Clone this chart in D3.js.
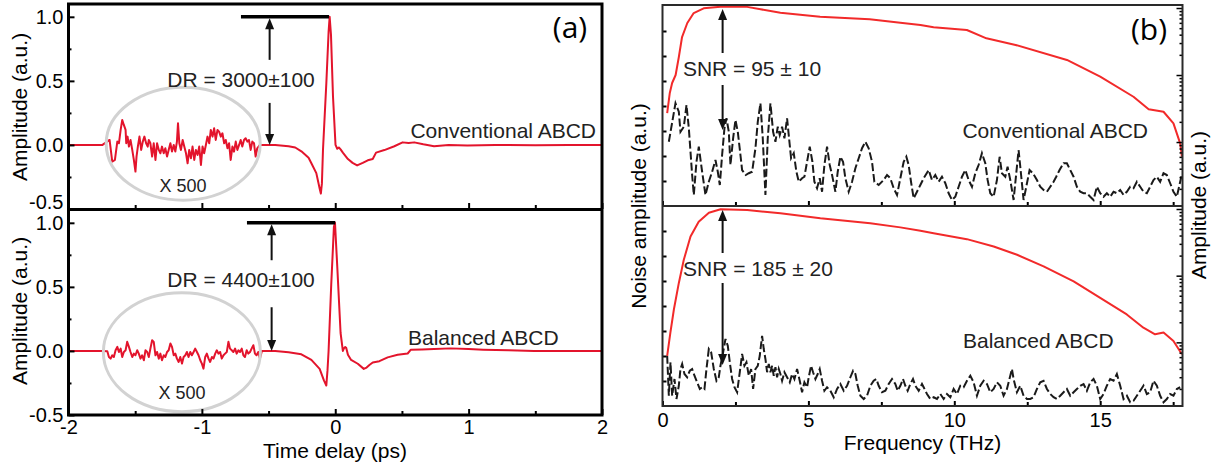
<!DOCTYPE html>
<html><head><meta charset="utf-8">
<script src="https://cdn.jsdelivr.net/npm/d3@7"></script>
<style>
html,body{margin:0;padding:0;background:#fff;}
svg{display:block;}
</style></head><body>
<svg id="chart" width="1223" height="470"></svg>
<script>
// ---------- tick labels ----------
const timeTicks = [-2, -1, 0, 1, 2];
const timeTickLabels = ["-2", "-1", "0", "1", "2"];
const timeMinor = [-1.5, -0.5, 0.5, 1.5];
const ampTicks = [-0.5, 0, 0.5, 1];
const ampTickLabels = ["-0.5", "0.0", "0.5", "1.0"];
const ampMinor = [-0.25, 0.25, 0.75];
const freqTicks = [0, 5, 10, 15];
const freqTickLabels = ["0", "5", "10", "15"];
const freqMinor = [2.5, 7.5, 12.5, 17.5];
const noiseTicks = [1, 2, 3, 4, 5, 6, 7];

// ---------- (a) time-domain traces ----------
const convLead = [[-2, 0], [-1.745, 0]];
const convNoiseT = [-1.692,-1.672,-1.652,-1.634,-1.622,-1.609,-1.597,-1.585,-1.572,-1.567,-1.557,-1.547,-1.535,-1.522,-1.510,-1.498,-1.490,-1.480,-1.468,-1.455,-1.443,-1.431,-1.418,-1.406,-1.398,-1.386,-1.373,-1.361,-1.348,-1.336,-1.323,-1.311,-1.299,-1.286,-1.274,-1.261,-1.249,-1.236,-1.224,-1.211,-1.199,-1.187,-1.179,-1.169,-1.157,-1.144,-1.132,-1.119,-1.107,-1.095,-1.082,-1.070,-1.057,-1.045,-1.032,-1.020,-1.007,-0.995,-0.983,-0.970,-0.958,-0.945,-0.933,-0.920,-0.908,-0.896,-0.883,-0.871,-0.858,-0.846,-0.833,-0.821,-0.808,-0.796,-0.784,-0.771,-0.759,-0.746,-0.734,-0.721,-0.709,-0.697,-0.684,-0.672,-0.659,-0.647,-0.634,-0.622,-0.609,-0.597,-0.585];
const convNoiseV = [0.039,-0.130,-0.117,0.026,0.013,0.117,0.195,0.156,0.117,0.013,0.065,-0.013,0.039,-0.039,-0.117,-0.208,-0.091,-0.013,0.065,-0.039,0.026,0.065,0.013,-0.013,0.039,0.013,-0.091,0.013,-0.117,0.013,-0.039,-0.065,-0.013,-0.065,-0.026,-0.091,-0.039,0.013,-0.052,0.0,-0.052,0.026,0.169,0.013,-0.039,0.039,-0.013,-0.065,-0.143,-0.039,-0.104,-0.013,-0.117,-0.039,-0.078,-0.013,-0.156,-0.013,-0.065,0.0,0.065,0.013,0.117,0.065,0.130,0.039,0.117,0.104,0.065,0.091,0.013,0.039,-0.026,0.013,-0.117,-0.013,-0.052,0.026,-0.039,0.0,0.039,-0.013,0.039,0.052,0.026,0.039,-0.039,0.026,0.013,-0.091,-0.026];
const convPulse = [[-0.565,0],[-0.45,0],[-0.35,-0.01],[-0.30,-0.02],[-0.254,-0.05],[-0.2,-0.10],[-0.179,-0.143],[-0.142,-0.22],[-0.117,-0.34],[-0.108,-0.38],[-0.100,-0.30],[-0.092,-0.04],[-0.067,0.48],[-0.050,0.88],[-0.042,1.0],[-0.032,0.86],[-0.017,0.38],[0.002,0.0],[0.015,-0.03],[0.027,-0.02],[0.040,-0.035],[0.057,-0.06],[0.095,-0.11],[0.13,-0.14],[0.164,-0.16],[0.206,-0.14],[0.244,-0.12],[0.281,-0.11],[0.306,-0.06],[0.368,-0.04],[0.443,-0.01],[0.505,0.02],[0.55,0.015],[0.592,0.02],[0.66,0.005],[0.741,-0.01],[0.85,0.0],[0.99,-0.005],[1.2,0.0],[1.5,-0.003],[1.75,0.0],[2.0,0.0]];

const balLead = [[-2, 0], [-1.745, 0]];
const balNoiseT = [-1.709,-1.697,-1.684,-1.672,-1.660,-1.647,-1.634,-1.622,-1.609,-1.597,-1.585,-1.572,-1.560,-1.547,-1.535,-1.522,-1.510,-1.498,-1.485,-1.473,-1.460,-1.448,-1.435,-1.423,-1.410,-1.398,-1.386,-1.373,-1.361,-1.348,-1.336,-1.323,-1.311,-1.299,-1.286,-1.274,-1.261,-1.249,-1.236,-1.224,-1.211,-1.199,-1.187,-1.174,-1.162,-1.149,-1.137,-1.124,-1.112,-1.100,-1.087,-1.075,-1.062,-1.050,-1.037,-1.025,-1.012,-1.000,-0.988,-0.975,-0.963,-0.950,-0.938,-0.925,-0.913,-0.900,-0.888,-0.876,-0.863,-0.851,-0.838,-0.826,-0.813,-0.801,-0.789,-0.776,-0.764,-0.751,-0.739,-0.726,-0.714,-0.701,-0.689,-0.677,-0.664,-0.652,-0.639,-0.627,-0.614,-0.602,-0.590,-0.577,-0.565];
const balNoiseV = [-0.002,-0.047,-0.060,-0.034,-0.047,0.005,0.032,-0.008,0.018,-0.047,-0.008,0.005,0.071,0.032,-0.008,-0.047,-0.021,-0.034,0.005,-0.021,-0.060,-0.034,-0.073,0.005,-0.008,-0.047,0.018,0.084,0.071,-0.034,-0.008,-0.060,-0.021,-0.073,-0.034,-0.047,-0.008,0.005,0.058,0.032,-0.034,-0.021,-0.060,-0.086,-0.047,-0.099,-0.047,-0.034,-0.008,-0.047,-0.008,-0.034,-0.008,0.018,-0.008,-0.034,-0.073,-0.099,-0.138,-0.047,-0.021,-0.060,-0.086,-0.047,-0.060,-0.021,0.005,-0.021,-0.008,-0.060,-0.034,-0.021,-0.008,0.071,0.018,0.005,-0.008,0.018,-0.021,0.005,-0.008,0.018,-0.034,-0.047,0.005,-0.021,-0.008,0.018,0.045,-0.021,-0.034,-0.008,-0.060];
const balPulse = [[-0.55,0],[-0.45,0],[-0.35,-0.01],[-0.254,-0.026],[-0.179,-0.07],[-0.117,-0.14],[-0.085,-0.23],[-0.067,-0.27],[-0.058,-0.15],[-0.050,0.0],[-0.030,0.52],[-0.010,0.97],[-0.002,1.0],[0.015,0.66],[0.040,0.14],[0.057,0.0],[0.065,0.02],[0.075,0.03],[0.082,0.025],[0.095,-0.03],[0.119,-0.07],[0.169,-0.10],[0.214,-0.14],[0.235,-0.13],[0.256,-0.11],[0.281,-0.09],[0.331,-0.08],[0.393,-0.05],[0.468,-0.03],[0.543,-0.02],[0.567,0.01],[0.65,0.012],[0.741,0.015],[0.865,0.02],[1.0,0.015],[1.11,0.01],[1.3,0.005],[1.49,0.0],[1.75,0.0],[2.0,0.0]];

// ---------- (b) frequency-domain spectra ----------
const convSpectrum = [[0.16,0.027],[0.25,0.054],[0.33,0.076],[0.45,0.10],[0.56,0.186],[0.67,0.369],[0.85,0.597],[1.07,0.841],[1.41,0.99],[1.99,1.04],[2.9,1.04],[3.36,0.957],[4.04,0.851],[5.4,0.741],[7.1,0.678],[8.15,0.604],[8.84,0.557],[9.29,0.515],[10.43,0.470],[11.1,0.353],[12.1,0.281],[13.86,0.168],[15.0,0.0944],[16.14,0.0474],[16.66,0.0308],[17.17,0.0283],[17.51,0.019],[17.74,0.00957],[17.80,0.00604]];
const balSpectrum = [[0.16,0.00625],[0.27,0.01396],[0.39,0.0311],[0.56,0.0778],[0.73,0.173],[0.96,0.386],[1.24,0.646],[1.59,0.881],[1.99,0.99],[2.9,0.966],[4.04,0.863],[5.41,0.726],[7.12,0.612],[8.15,0.53],[8.84,0.47],[9.29,0.434],[10.43,0.353],[11.35,0.274],[12.15,0.206],[13.06,0.138],[14.09,0.0822],[15.0,0.0465],[15.91,0.0262],[16.48,0.0166],[16.88,0.0132],[17.17,0.0140],[17.51,0.0105],[17.80,0.00662]];
const convNoiseSpec = [[0.217,2.57],[0.445,4.11],[0.559,3.77],[0.616,2.97],[0.731,3.17],[0.822,4.04],[0.902,3.11],[1.016,1.24],[1.073,0.44],[1.164,1.77],[1.244,2.37],[1.358,1.37],[1.473,0.44],[1.587,0.97],[1.701,1.37],[1.815,1.84],[1.895,1.37],[1.964,0.84],[2.043,2.04],[2.123,3.11],[2.192,3.51],[2.272,2.97],[2.329,1.64],[2.420,2.71],[2.500,3.44],[2.580,2.97],[2.671,2.04],[2.728,1.44],[2.854,1.24],[2.957,1.31],[3.071,1.37],[3.185,2.31],[3.265,3.37],[3.356,4.11],[3.436,2.71],[3.527,0.44],[3.607,2.71],[3.699,4.11],[3.790,2.97],[3.870,2.57],[3.950,3.17],[4.018,2.84],[4.098,3.17],[4.178,2.71],[4.269,3.51],[4.326,2.84],[4.406,1.91],[4.498,2.11],[4.589,1.37],[4.669,0.97],[4.783,1.11],[4.863,1.17],[4.954,1.77],[5.046,2.37],[5.137,1.77],[5.205,0.97],[5.297,0.71],[5.388,1.11],[5.468,0.57],[5.548,1.64],[5.639,2.37],[5.731,1.64],[5.811,1.24],[5.925,0.57],[6.005,1.37],[6.096,1.97],[6.187,1.77],[6.267,1.11],[6.381,0.57],[6.495,0.97],[6.610,1.51],[6.724,1.91],[6.838,2.31],[6.952,2.57],[7.066,2.31],[7.180,1.77],[7.260,0.97],[7.409,0.84],[7.580,1.04],[7.694,1.24],[7.808,1.11],[7.922,0.71],[8.037,0.44],[8.151,1.11],[8.265,1.77],[8.356,1.97],[8.436,1.64],[8.516,0.97],[8.607,0.31],[8.721,0.57],[8.836,0.84],[8.950,1.11],[9.121,1.44],[9.235,1.04],[9.349,1.24],[9.463,0.97],[9.577,1.17],[9.692,0.91],[9.806,0.51],[9.920,0.24],[10.034,0.37],[10.148,0.77],[10.263,1.17],[10.377,1.44],[10.491,1.04],[10.605,0.77],[10.719,1.31],[10.833,1.64],[10.947,2.11],[11.062,1.71],[11.142,1.04],[11.233,0.51],[11.347,0.37],[11.461,1.04],[11.553,1.97],[11.632,1.31],[11.747,1.17],[11.826,1.57],[11.918,1.04],[12.032,0.24],[12.123,1.31],[12.203,2.24],[12.283,1.31],[12.374,0.24],[12.466,0.77],[12.580,1.44],[12.694,1.31],[12.831,1.04],[12.945,0.77],[13.059,0.64],[13.174,0.57],[13.288,0.77],[13.402,0.97],[13.493,1.17],[13.607,1.44],[13.744,1.71],[13.858,1.71],[13.973,1.44],[14.087,1.17],[14.201,0.77],[14.315,0.57],[14.429,0.51],[14.543,0.51],[14.658,0.37],[14.772,0.24],[14.886,0.77],[15.000,0.51],[15.114,0.37],[15.228,0.51],[15.342,0.37],[15.457,0.57],[15.571,0.51],[15.685,0.64],[15.799,0.44],[15.913,0.57],[16.027,0.77],[16.142,0.71],[16.256,0.97],[16.370,0.77],[16.484,0.57],[16.598,0.51],[16.712,0.77],[16.826,1.04],[16.941,1.17],[17.055,0.97],[17.169,1.31],[17.283,1.24],[17.397,0.91],[17.511,0.57],[17.626,0.37],[17.740,0.97],[17.808,1.31]];
const balNoiseSpec = [[0.16,2.01],[0.217,0.41],[0.274,1.75],[0.331,0.41],[0.411,1.08],[0.479,0.28],[0.559,0.81],[0.616,1.48],[0.674,1.68],[0.753,1.28],[0.845,1.15],[0.936,1.41],[1.016,1.48],[1.096,1.21],[1.187,0.95],[1.279,0.68],[1.358,0.75],[1.438,0.68],[1.507,1.48],[1.587,2.28],[1.667,2.15],[1.758,1.48],[1.849,1.01],[1.929,1.15],[1.986,1.61],[2.078,2.15],[2.158,2.68],[2.237,2.41],[2.306,1.75],[2.386,1.08],[2.466,0.75],[2.557,0.55],[2.648,1.35],[2.728,2.08],[2.808,1.61],[2.877,1.75],[2.957,1.21],[3.037,1.48],[3.105,0.68],[3.185,1.48],[3.265,1.61],[3.333,2.01],[3.413,2.81],[3.470,2.28],[3.527,1.88],[3.584,1.35],[3.642,1.68],[3.699,1.35],[3.756,1.61],[3.813,1.21],[3.870,1.55],[3.927,1.15],[3.984,1.48],[4.041,1.28],[4.098,1.01],[4.178,1.35],[4.269,1.15],[4.361,0.95],[4.441,1.28],[4.521,1.08],[4.612,1.48],[4.703,1.01],[4.783,0.55],[4.863,0.95],[4.954,0.75],[5.011,1.15],[5.091,1.61],[5.160,1.35],[5.240,1.08],[5.320,1.28],[5.388,1.48],[5.468,1.01],[5.548,0.61],[5.639,0.75],[5.753,0.61],[5.868,0.35],[5.982,0.68],[6.096,0.88],[6.210,0.61],[6.324,0.81],[6.438,1.15],[6.530,1.41],[6.610,1.28],[6.690,0.81],[6.781,0.41],[6.895,0.28],[7.009,0.41],[7.123,0.81],[7.237,1.01],[7.329,1.08],[7.409,0.81],[7.523,0.55],[7.637,0.61],[7.751,0.88],[7.865,1.08],[7.979,0.88],[8.059,0.61],[8.151,0.81],[8.242,1.08],[8.322,0.81],[8.402,0.61],[8.493,0.88],[8.584,1.08],[8.664,0.81],[8.779,0.61],[8.893,0.88],[8.950,0.75],[9.064,0.48],[9.178,0.28],[9.292,0.35],[9.406,0.28],[9.521,0.48],[9.635,0.28],[9.749,0.48],[9.863,0.35],[9.977,0.68],[10.091,0.48],[10.205,0.81],[10.320,0.75],[10.434,1.01],[10.548,1.21],[10.662,0.95],[10.776,0.41],[10.890,0.81],[11.005,1.01],[11.119,0.88],[11.233,0.55],[11.347,0.68],[11.461,0.95],[11.575,0.81],[11.689,0.41],[11.804,0.68],[11.918,1.21],[11.975,1.48],[12.032,1.08],[12.146,0.55],[12.260,0.81],[12.374,0.41],[12.489,0.28],[12.603,0.28],[12.717,0.35],[12.831,0.68],[12.945,0.95],[13.059,1.01],[13.174,0.68],[13.288,0.48],[13.402,0.35],[13.516,0.28],[13.630,0.41],[13.744,0.55],[13.858,0.68],[13.973,0.41],[14.087,0.55],[14.201,0.68],[14.315,0.81],[14.429,0.88],[14.543,0.61],[14.658,0.95],[14.772,1.08],[14.886,0.81],[15.000,0.28],[15.114,0.48],[15.228,0.81],[15.342,1.08],[15.457,1.01],[15.571,1.28],[15.685,0.81],[15.799,0.28],[15.913,0.41],[16.027,0.15],[16.142,0.21],[16.256,0.41],[16.370,0.61],[16.484,0.81],[16.598,0.48],[16.712,0.55],[16.826,1.01],[16.941,0.81],[17.055,0.41],[17.169,0.15],[17.283,0.28],[17.397,0.48],[17.511,0.41],[17.626,0.68],[17.740,0.75]];

// ---------- drawing ----------
const FONT = '"Liberation Sans", Arial, Helvetica, sans-serif';
const svg = d3.select("#chart");
const RED_A = "#e3142c", RED_B = "#f22a2a", TXT = "#222";

const xT = d3.scaleLinear().domain([-2, 2]).range([68.5, 602]);
const yA = d3.scaleLinear().domain([-0.5, 1.1]).range([209, 4]);
const yB = d3.scaleLinear().domain([-0.5, 1.1]).range([415, 210]);

const xF = d3.scaleLinear().domain([0, 17.82]).range([662.5, 1182.5]);
const nA = d3.scaleLinear().domain([0, 8.04]).range([206, 5]);
const nB = d3.scaleLinear().domain([0, 8]).range([406, 206]);
const sA = d3.scaleLog().domain([0.00111, 1.109]).range([206, 5]);
const sB = d3.scaleLog().domain([0.00111, 1.109]).range([406, 206]);

const mkLine = (x, y) => d3.line().x(d => x(d[0])).y(d => y(d[1]));

function styleAxis(g, size) {
  g.select(".domain").remove();
  g.selectAll("line").attr("stroke", "#000").attr("stroke-width", 2);
  g.selectAll("text").attr("font-family", FONT).attr("font-size", size || 20).attr("fill", "#000");
}

// ---- panel (a) traces ----
const convTrace = convLead.concat(d3.zip(convNoiseT, convNoiseV), convPulse);
const balTrace = balLead.concat(d3.zip(balNoiseT, balNoiseV), balPulse);

svg.append("path").datum(convTrace).attr("d", mkLine(xT, yA))
  .attr("fill", "none").attr("stroke", RED_A).attr("stroke-width", 2).attr("stroke-linejoin", "round");
svg.append("path").datum(balTrace).attr("d", mkLine(xT, yB))
  .attr("fill", "none").attr("stroke", RED_A).attr("stroke-width", 2).attr("stroke-linejoin", "round");

// ellipses (x500 zoom regions)
svg.append("ellipse").attr("cx", xT(-1.14)).attr("cy", yA(0.01)).attr("rx", 77).attr("ry", 56.5)
  .attr("fill", "none").attr("stroke", "#d2d2d2").attr("stroke-width", 3);
svg.append("ellipse").attr("cx", xT(-1.15)).attr("cy", yB(-0.01)).attr("rx", 78.5).attr("ry", 59.5)
  .attr("fill", "none").attr("stroke", "#d2d2d2").attr("stroke-width", 3);

// axes for (a)
[[yA, false], [yB, true]].forEach(([y, showX]) => {
  const gl = svg.append("g").attr("transform", `translate(${xT(-2)},0)`)
    .call(d3.axisLeft(y).tickValues(ampTicks).tickFormat((d, i) => ampTickLabels[i])
      .tickSizeInner(-6).tickSizeOuter(0).tickPadding(5));
  styleAxis(gl);
  if (!showX) gl.selectAll(".tick").filter(d => d === -0.5).select("text").attr("y", -7);
  const gm = svg.append("g").attr("transform", `translate(${xT(-2)},0)`)
    .call(d3.axisLeft(y).tickValues(ampMinor).tickFormat(() => "").tickSizeInner(-3).tickSizeOuter(0));
  styleAxis(gm);
  const gx = svg.append("g").attr("transform", `translate(0,${y.range()[0]})`)
    .call(d3.axisBottom(xT).tickValues(timeTicks)
      .tickFormat((d, i) => showX ? timeTickLabels[i] : "")
      .tickSizeInner(-6).tickSizeOuter(0).tickPadding(5));
  styleAxis(gx);
  const gxm = svg.append("g").attr("transform", `translate(0,${y.range()[0]})`)
    .call(d3.axisBottom(xT).tickValues(timeMinor).tickFormat(() => "").tickSizeInner(-4).tickSizeOuter(0));
  styleAxis(gxm);
});

// frame (a)
svg.append("rect").attr("x", xT(-2)).attr("y", yA(1.1)).attr("width", xT(2) - xT(-2)).attr("height", yB(-0.5) - yA(1.1))
  .attr("fill", "none").attr("stroke", "#000").attr("stroke-width", 3);
svg.append("line").attr("x1", xT(-2)).attr("x2", xT(2)).attr("y1", 209.5).attr("y2", 209.5)
  .attr("stroke", "#000").attr("stroke-width", 3);

// arrows helper
function arrow(x, y1, y2, w) {
  const dir = y2 > y1 ? 1 : -1;
  svg.append("line").attr("x1", x).attr("x2", x).attr("y1", y1).attr("y2", y2 - dir * 8)
    .attr("stroke", "#111").attr("stroke-width", w || 2);
  svg.append("path").attr("d", `M${x},${y2} L${x - 4.5},${y2 - dir * 11} L${x + 4.5},${y2 - dir * 11} Z`)
    .attr("fill", "#111");
}

// DR annotations
const drTop = { t0: -0.707, t1: -0.047, ta: -0.492 };
const drBot = { t0: -0.662, t1: 0.0, ta: -0.477 };
svg.append("line").attr("x1", xT(drTop.t0)).attr("x2", xT(drTop.t1)).attr("y1", yA(1)).attr("y2", yA(1))
  .attr("stroke", "#000").attr("stroke-width", 3.5);
arrow(xT(drTop.ta), yA(0.664), yA(1) + 1.5);
arrow(xT(drTop.ta), yA(0.328), yA(0));
svg.append("line").attr("x1", xT(drBot.t0)).attr("x2", xT(drBot.t1)).attr("y1", yB(1)).attr("y2", yB(1))
  .attr("stroke", "#000").attr("stroke-width", 3.5);
arrow(xT(drBot.ta), yB(0.708), yB(1) + 1.5);
arrow(xT(drBot.ta), yB(0.341), yB(0));

function txt(x, y, s, opts) {
  opts = opts || {};
  const t = svg.append("text").attr("x", x).attr("y", y).text(s)
    .attr("font-family", opts.font || FONT).attr("font-size", opts.size || 21)
    .attr("fill", opts.fill || TXT).attr("text-anchor", opts.anchor || "middle");
  if (opts.rot) t.attr("transform", `rotate(${opts.rot},${x},${y})`);
  return t;
}

txt(241, 87, "DR = 3000±100");
txt(241, 287, "DR = 4400±100");
txt(596, 138, "Conventional ABCD", { anchor: "end" });
txt(408, 345, "Balanced ABCD", { anchor: "start" });
txt(183, 192, "X 500", { size: 18 });
txt(182, 399, "X 500", { size: 18 });
txt(335, 458, "Time delay (ps)", { fill: "#000" });
txt(27, 107, "Amplitude (a.u.)", { rot: -90, fill: "#000" });
txt(27, 311, "Amplitude (a.u.)", { rot: -90, fill: "#000" });
txt(570, 38, "(a)", { font: '"Open Sans", sans-serif', size: 30, fill: "#000" });

// ---- panel (b) ----
svg.append("path").datum(convNoiseSpec).attr("d", mkLine(xF, nA))
  .attr("fill", "none").attr("stroke", "#1a1a1a").attr("stroke-width", 2).attr("stroke-dasharray", "8,3");
svg.append("path").datum(balNoiseSpec).attr("d", mkLine(xF, nB))
  .attr("fill", "none").attr("stroke", "#1a1a1a").attr("stroke-width", 2).attr("stroke-dasharray", "8,3");
svg.append("path").datum(convSpectrum).attr("d", mkLine(xF, sA))
  .attr("fill", "none").attr("stroke", RED_B).attr("stroke-width", 2).attr("stroke-linejoin", "round");
svg.append("path").datum(balSpectrum).attr("d", mkLine(xF, sB))
  .attr("fill", "none").attr("stroke", RED_B).attr("stroke-width", 2).attr("stroke-linejoin", "round");

[[nA, sA, false], [nB, sB, true]].forEach(([n, s, showX]) => {
  const gl = svg.append("g").attr("transform", `translate(${xF(0)},0)`)
    .call(d3.axisLeft(n).tickValues(noiseTicks).tickFormat(() => "").tickSizeInner(-4).tickSizeOuter(0));
  styleAxis(gl);
  const logTicks = s.ticks();
  const isMajor = d => Math.abs(Math.log10(d) - Math.round(Math.log10(d))) < 1e-6;
  const gr = svg.append("g").attr("class", "logax").attr("transform", `translate(${xF(17.82)},0)`)
    .call(d3.axisLeft(s).tickValues(logTicks.filter(d => !isMajor(d))).tickFormat(() => "").tickSizeInner(3).tickSizeOuter(0));
  styleAxis(gr);
  const gr2 = svg.append("g").attr("class", "logax").attr("transform", `translate(${xF(17.82)},0)`)
    .call(d3.axisLeft(s).tickValues(logTicks.filter(isMajor)).tickFormat(() => "").tickSizeInner(6).tickSizeOuter(0));
  styleAxis(gr2);
  const gx = svg.append("g").attr("transform", `translate(0,${n.range()[0]})`)
    .call(d3.axisBottom(xF).tickValues(freqTicks).tickFormat((d, i) => showX ? freqTickLabels[i] : "")
      .tickSizeInner(-5).tickSizeOuter(0).tickPadding(7));
  styleAxis(gx);
  const gxm = svg.append("g").attr("transform", `translate(0,${n.range()[0]})`)
    .call(d3.axisBottom(xF).tickValues(freqMinor).tickFormat(() => "").tickSizeInner(-4).tickSizeOuter(0));
  styleAxis(gxm);
});
svg.selectAll("g.logax line").attr("stroke-width", 1.5);

// frame (b)
svg.append("rect").attr("x", xF(0)).attr("y", 5).attr("width", xF(17.82) - xF(0)).attr("height", 401)
  .attr("fill", "none").attr("stroke", "#2a2a2a").attr("stroke-width", 2);
svg.append("line").attr("x1", xF(0)).attr("x2", xF(17.82)).attr("y1", 206).attr("y2", 206)
  .attr("stroke", "#2a2a2a").attr("stroke-width", 2);

// SNR arrows
const snrF = 2.06;
arrow(xF(snrF), nA(6.12), sA(1) + 1);
arrow(xF(snrF), nA(4.84), nA(3.04));
arrow(xF(snrF), nB(6.12), sB(1) + 1);
arrow(xF(snrF), nB(4.92), nB(1.64));

txt(752, 76, "SNR = 95 ± 10");
txt(758, 276, "SNR = 185 ± 20");
txt(1148, 138, "Conventional ABCD", { anchor: "end" });
txt(963, 348, "Balanced ABCD", { anchor: "start" });
txt(922.5, 450, "Frequency (THz)", { fill: "#000" });
txt(646, 206, "Noise amplitude (a.u.)", { rot: -90, fill: "#000" });
txt(1206, 205, "Amplitude (a.u.)", { rot: -90, fill: "#000" });
txt(1149, 40, "(b)", { font: '"Open Sans", sans-serif', size: 30, fill: "#000" });
</script>
</body></html>
